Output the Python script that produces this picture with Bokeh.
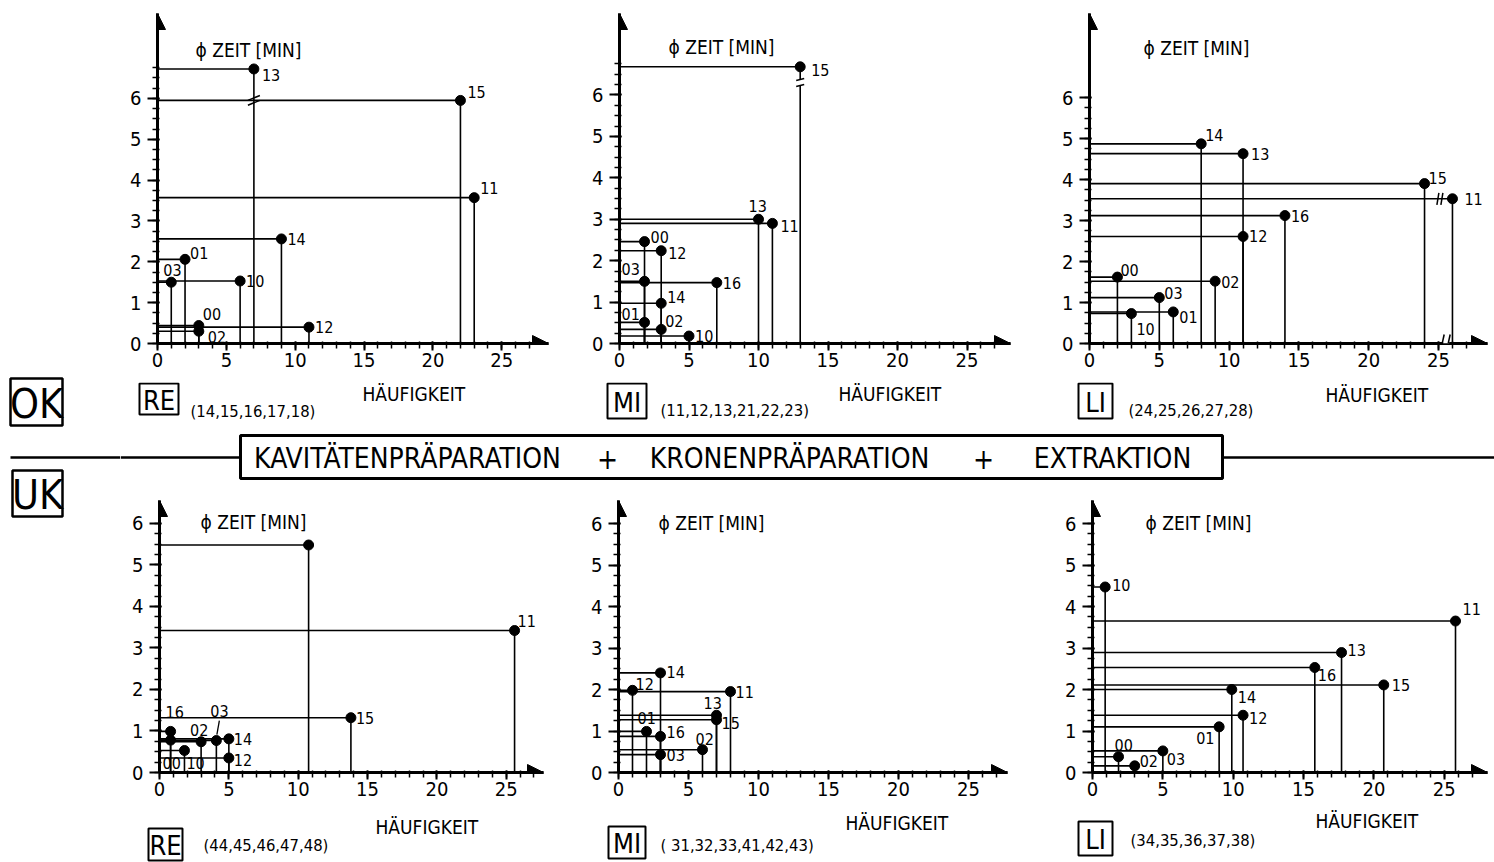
from bokeh.plotting import figure
from bokeh.models import Range1d, FixedTicker, ColumnDataSource, Label, Arrow, NormalHead
from bokeh.layouts import row, column
from bokeh.embed import file_html
from bokeh.resources import INLINE
from bokeh.core.properties import value

FONT = "DejaVu Sans Condensed"

# ---------------- data (Häufigkeit, Ø Zeit [min]) ----------------
ok_re_ids = ["13", "15", "11", "14", "01", "03", "10", "00", "02", "12"]
ok_re_freq = [7, 22, 23, 9, 2, 1, 6, 3, 3, 11]
ok_re_time = [6.72, 5.95, 3.57, 2.56, 2.06, 1.50, 1.53, 0.44, 0.30, 0.40]

ok_mi_ids = ["15", "13", "11", "00", "12", "03", "16", "14", "01", "02", "10"]
ok_mi_freq = [13, 10, 11, 1.8, 3, 1.8, 7, 3, 1.8, 3, 5]
ok_mi_time = [6.68, 3.0, 2.9, 2.46, 2.24, 1.5, 1.47, 0.97, 0.51, 0.34, 0.18]

ok_li_ids = ["14", "13", "15", "11", "16", "12", "00", "02", "03", "10", "01"]
ok_li_freq = [8, 11, 24, 26, 14, 11, 2, 9, 5, 3, 6]
ok_li_time = [4.87, 4.63, 3.9, 3.53, 3.12, 2.61, 1.62, 1.52, 1.12, 0.73, 0.77]

uk_re_ids = ["", "11", "15", "16", "00", "10", "02", "03", "14", "12"]
uk_re_freq = [10.75, 25.6, 13.8, 0.8, 0.8, 1.8, 3.0, 4.1, 5.0, 5.0]
uk_re_time = [5.48, 3.42, 1.32, 0.99, 0.78, 0.53, 0.74, 0.77, 0.81, 0.35]

uk_mi_ids = ["14", "12", "11", "13", "15", "01", "16", "03", "02"]
uk_mi_freq = [3, 1, 8, 7, 7, 2, 3, 3, 6]
uk_mi_time = [2.4, 1.98, 1.95, 1.38, 1.27, 0.99, 0.87, 0.43, 0.55]

uk_li_ids = ["10", "11", "13", "16", "15", "14", "12", "01", "00", "02", "03"]
uk_li_freq = [0.9, 25.8, 17.7, 15.8, 20.7, 9.9, 10.7, 9.0, 1.85, 3.0, 5.0]
uk_li_time = [4.47, 3.65, 2.89, 2.53, 2.11, 2.0, 1.38, 1.1, 0.38, 0.16, 0.52]

x_major_ticks = [0, 5, 10, 15, 20, 25]
y_major_ticks = [0, 1, 2, 3, 4, 5, 6]
x_title = "HÄUFIGKEIT"
codes = ["RE", "MI", "LI"]
ok_groups = ["(14,15,16,17,18)", "(11,12,13,21,22,23)", "(24,25,26,27,28)"]
uk_groups = ["(44,45,46,47,48)", "( 31,32,33,41,42,43)", "(34,35,36,37,38)"]
jaw_labels = ["OK", "UK"]
banner_words = ["KAVITÄTENPRÄPARATION", "+", "KRONENPRÄPARATION", "+", "EXTRAKTION"]

# ---------------- style / layout (label offsets in px) ----------------
ok_re_offs = [(8, 6), (7, -8), (6, -10), (6, 0), (5, -6), (-8, -12), (6, 0), (4, -12), (9, 6), (6, 0)]
ok_mi_offs = [(11, 3), (-10, -13), (8, 3), (6, -5), (7, 2), (-23, -12), (6, 0), (6, -6), (-23, -8), (4, -8), (6, 0)]
ok_li_offs = [(4, -9), (8, 0), (4, -6), (12, 0), (6, 0), (6, 0), (3, -7), (6, 1), (5, -5), (5, 15), (6, 5)]
uk_re_offs = [(0, 0), (3, -10), (5, 0), (-5, -19), (-8, 23), (2, 13), (-11, -12), (-6, -30), (5, 0), (5, 2)]
uk_mi_offs = [(6, -1), (3, -6), (5, 0), (-13, -12), (5, 3), (-9, -13), (6, -4), (6, 0), (-7, -11)]
uk_li_offs = [(7, -2), (7, -12), (6, -3), (3, 7), (8, 0), (6, 7), (6, 3), (-23, 11), (-4, -12), (5, -5), (4, 8)]

TOP_Y0, TOP_H = 0, 382
MID_Y0, MID_H = 382, 100
BOT_Y0, BOT_H = 482, 326
STR_Y0, STR_H = 808, 54

GEOM = {
    "ok_re": dict(x0=120, w=460, fl=157, fr=548, ft=10, fb=347, ppx=13.77, ppy=41.72),
    "ok_mi": dict(x0=580, w=470, fl=619, fr=1010, ft=13, fb=345, ppx=13.9, ppy=41.67),
    "ok_li": dict(x0=1050, w=444, fl=1089, fr=1487, ft=13, fb=343, ppx=13.96, ppy=41.0),
    "uk_re": dict(x0=120, w=460, fl=159, fr=543, ft=500, fb=773, ppx=13.87, ppy=41.67),
    "uk_mi": dict(x0=580, w=470, fl=618, fr=1007, ft=500, fb=772, ppx=14.0, ppy=41.5),
    "uk_li": dict(x0=1050, w=444, fl=1092, fr=1487, ft=500, fb=772, ppx=14.07, ppy=41.5),
}
ZEIT_POS = {"ok_re": (195, 47), "ok_mi": (668, 47), "ok_li": (1143, 47),
            "uk_re": (200, 522), "uk_mi": (658, 522), "uk_li": (1145, 522)}
ZEIT_TEXT = {
    "ok_re": "ϕ ZEIT [MIN]", "ok_mi": "ϕ  ZEIT    [MIN]", "ok_li": "ϕ  ZEIT    [MIN]",
    "uk_re": "ϕ ZEIT [MIN]", "uk_mi": "ϕ ZEIT  [MIN]", "uk_li": "ϕ ZEIT    [MIN]",
}
# page-pixel boxes for the region codes (left, right, top, bottom), group text (left, cy), axis title (left, cy)
TOP_CODE_BOX = [(139, 178, 383, 414), (607, 646, 383, 418), (1078, 1112, 383, 418)]
TOP_GROUP = [(190, 411), (660, 410), (1128, 410)]
TOP_HAEUF = [(362, 393), (838, 393), (1325, 394)]
BOT_CODE_BOX = [(148, 182, 828, 860), (608, 645, 826, 858), (1078, 1112, 821, 855)]
BOT_GROUP = [(203, 845), (660, 845), (1130, 840)]
BOT_HAEUF = [(375, 826), (845, 822), (1315, 820)]


def seg(p, x0, y0, x1, y1, color="black", width=1.6):
    p.add_layout(Arrow(end=None, x_start=x0, y_start=y0, x_end=x1, y_end=y1,
                       line_color=color, line_width=width))


def make_panel(key, ids, freq, time, offs):
    g = GEOM[key]
    y0, h = (TOP_Y0, TOP_H) if key.startswith("ok") else (BOT_Y0, BOT_H)
    ppx, ppy = g["ppx"], g["ppy"]
    xend = (g["fr"] - g["fl"]) / ppx
    yend = (g["fb"] - g["ft"]) / ppy

    def d(px, py):
        return (px - g["fl"]) / ppx, (g["fb"] - py) / ppy

    p = figure(width=g["w"], height=h,
               x_range=Range1d(0, xend), y_range=Range1d(0, yend),
               min_border_left=g["fl"] - g["x0"], min_border_right=g["x0"] + g["w"] - g["fr"],
               min_border_top=g["ft"] - y0, min_border_bottom=y0 + h - g["fb"],
               output_backend="svg", toolbar_location=None)
    p.grid.visible = False
    p.outline_line_color = None
    p.background_fill_color = "white"
    p.border_fill_color = "white"

    xa = p.xaxis[0]
    xa.ticker = FixedTicker(ticks=x_major_ticks, minor_ticks=list(range(0, 28)))
    ya = p.yaxis[0]
    top_minor = 6.75 if key in ("ok_re", "ok_mi") else 6.0
    ymin = [i * 0.25 for i in range(int(top_minor / 0.25) + 1)]
    ya.ticker = FixedTicker(ticks=y_major_ticks, minor_ticks=ymin)
    for ax in (xa, ya):
        ax.axis_line_width = 3
        ax.axis_line_color = "black"
        ax.major_tick_line_width = 2
        ax.major_tick_in = 2
        ax.minor_tick_line_width = 1.5
        ax.minor_tick_in = 2
        ax.minor_tick_out = 5
        ax.major_label_text_font = FONT
        ax.major_label_text_font_size = "20px"
        ax.major_label_text_color = "black"
    xa.major_tick_out = 7
    xa.major_label_standoff = 2
    ya.major_tick_out = 10
    ya.major_label_standoff = 6

    # arrowheads on the axes
    p.add_layout(Arrow(end=NormalHead(size=16, fill_color="black", line_color="black"),
                       x_start=0, y_start=0, x_end=0, y_end=yend, line_width=3))
    p.add_layout(Arrow(end=NormalHead(size=16, fill_color="black", line_color="black"),
                       x_start=0, y_start=0, x_end=xend, y_end=0, line_width=3))

    n = len(ids)
    src = ColumnDataSource(dict(x=freq, y=time, zero=[0] * n, label=ids,
                                dx=[o[0] for o in offs], dy=[o[1] for o in offs]))
    p.segment(x0="zero", y0="y", x1="x", y1="y", source=src, line_color="black", line_width=1.6)
    p.segment(x0="x", y0="zero", x1="x", y1="y", source=src, line_color="black", line_width=1.6)
    p.scatter("x", "y", source=src, size=10, color="black")
    p.text("x", "y", text="label", x_offset="dx", y_offset="dy", source=src,
           text_baseline="middle", text_align="left", text_font=value(FONT),
           text_font_size="16px", text_color="black")

    zx, zy = d(*ZEIT_POS[key])
    p.add_layout(Label(x=zx, y=zy, text=ZEIT_TEXT[key], text_font=FONT, text_font_size="19px",
                       text_baseline="middle", text_align="left", text_color="black"))

    # axis-break marks and leader line
    if key == "ok_re":
        bx, by = 7, 6.0
        for k in (0, 5):
            seg(p, bx - 6 / ppx, by - (2 + k) / ppy, bx + 6 / ppx, by + (3 - k) / ppy, width=1.5)
    if key == "ok_mi":
        bx, by = 13, 6.3
        seg(p, bx, by - 3 / ppy, bx, by + 3 / ppy, color="white", width=4)
        for k in (-3, 3):
            seg(p, bx - 4 / ppx, by + (k - 1) / ppy, bx + 4 / ppx, by + (k + 1) / ppy, width=1.5)
    if key == "ok_li":
        bx, by = 25.1, 3.53
        for k in (-2, 2):
            seg(p, bx + (k - 1) / ppx, by - 6 / ppy, bx + (k + 1) / ppx, by + 6 / ppy, width=1.5)
        ax_x = 25.55
        seg(p, ax_x - 3 / ppx, 1.5 / ppy, ax_x + 3 / ppx, 1.5 / ppy, color="white", width=3)
        for k in (-3, 3):
            seg(p, ax_x + (k - 1) / ppx, 0, ax_x + (k + 1) / ppx, 9 / ppy, width=1.5)
    if key == "uk_re":
        i = uk_re_ids.index("03")
        px_, py_ = freq[i], time[i]
        seg(p, px_ + 0.5 / ppx, py_ + 6 / ppy, px_ + 3 / ppx, py_ + 20 / ppy, width=1.3)
    return p


p1 = make_panel("ok_re", ok_re_ids, ok_re_freq, ok_re_time, ok_re_offs)
p2 = make_panel("ok_mi", ok_mi_ids, ok_mi_freq, ok_mi_time, ok_mi_offs)
p3 = make_panel("ok_li", ok_li_ids, ok_li_freq, ok_li_time, ok_li_offs)
p4 = make_panel("uk_re", uk_re_ids, uk_re_freq, uk_re_time, uk_re_offs)
p5 = make_panel("uk_mi", uk_mi_ids, uk_mi_freq, uk_mi_time, uk_mi_offs)
p6 = make_panel("uk_li", uk_li_ids, uk_li_freq, uk_li_time, uk_li_offs)


def canvas(width, height, x0, y0):
    c = figure(width=width, height=height, x_range=Range1d(x0, x0 + width),
               y_range=Range1d(y0 + height, y0), x_axis_type=None, y_axis_type=None,
               min_border=0, output_backend="svg", toolbar_location=None)
    c.grid.visible = False
    c.outline_line_color = None
    c.background_fill_color = "white"
    c.border_fill_color = "white"
    return c


def panel_captions(c, boxes, groups, haeufs, group_texts):
    c.quad(left=[b[0] for b in boxes], right=[b[1] for b in boxes],
           top=[b[2] for b in boxes], bottom=[b[3] for b in boxes],
           fill_alpha=0, line_color="black", line_width=2)
    c.text(x=[(b[0] + b[1]) / 2 for b in boxes], y=[(b[2] + b[3]) / 2 + 1 for b in boxes],
           text=codes, text_align="center", text_baseline="middle",
           text_font=value(FONT), text_font_size="27px", text_color="black")
    c.text(x=[gp[0] for gp in groups], y=[gp[1] for gp in groups], text=group_texts,
           text_align="left", text_baseline="middle",
           text_font=value(FONT), text_font_size="16.5px", text_color="black")
    c.text(x=[hp[0] for hp in haeufs], y=[hp[1] for hp in haeufs], text=[x_title] * len(haeufs),
           text_align="left", text_baseline="middle",
           text_font=value(FONT), text_font_size="19px", text_color="black")


# ---------------- left column: OK / UK ----------------
left = canvas(120, 862, 0, 0)
left.quad(left=[10, 12], right=[62, 62], top=[378, 470], bottom=[425, 516],
          fill_alpha=0, line_color="black", line_width=2.5)
left.text(x=[36, 37], y=[403, 494], text=jaw_labels, text_align="center", text_baseline="middle",
          text_font=value(FONT), text_font_size="41px", text_color="black")
left.segment(x0=[10], y0=[457], x1=[120], y1=[457], line_color="black", line_width=2.5)

# ---------------- middle strip: captions of the upper row + banner ----------------
mid = canvas(1374, MID_H, 120, MID_Y0)
panel_captions(mid, TOP_CODE_BOX, TOP_GROUP, TOP_HAEUF, ok_groups)
mid.segment(x0=[120, 1222], y0=[457, 457], x1=[240, 1494], y1=[457, 457],
            line_color="black", line_width=2.5)
mid.quad(left=[240], right=[1222], top=[435], bottom=[478], fill_alpha=0,
         line_color="black", line_width=3)
mid.text(x=[407, 607, 789, 983, 1112], y=[458] * 5, text=banner_words,
         text_align="center", text_baseline="middle",
         text_font=value(FONT), text_font_size="28px", text_color="black")

# ---------------- bottom strip: captions of the lower row ----------------
bot = canvas(1374, STR_H, 120, STR_Y0)
panel_captions(bot, BOT_CODE_BOX, BOT_GROUP, BOT_HAEUF, uk_groups)

layout = row(left, column(row(p1, p2, p3), mid, row(p4, p5, p6), bot))

open("out.html", "w").write(file_html(layout, INLINE))
